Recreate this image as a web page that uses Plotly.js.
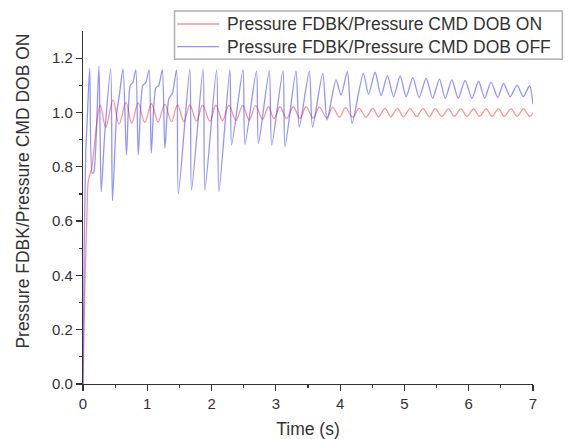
<!DOCTYPE html>
<html>
<head>
<meta charset="utf-8">
<script src="https://cdn.plot.ly/plotly-3.0.1.min.js"></script>
<style>html,body{margin:0;padding:0;background:#fff;}#chart{width:586px;height:439px;}</style>
</head>
<body>
<div id="chart"></div>
<script>
// Series names
const seriesOnName = "Pressure FDBK/Pressure CMD DOB ON";
const seriesOffName = "Pressure FDBK/Pressure CMD DOB OFF";
const xTitle = "Time (s)";
const yTitle = "Pressure FDBK/Pressure CMD DOB ON";

// DOB ON (red) – time (s) and ratio, read at peaks/troughs
const onTime = [0, 0.031, 0.062, 0.084, 0.131, 0.182, 0.234, 0.268, 0.354, 0.467, 0.561, 0.670, 0.759, 0.857, 0.961,
  1.065, 1.168, 1.273, 1.377, 1.470, 1.569, 1.662, 1.766, 1.860, 1.974, 2.067, 2.171, 2.270, 2.379, 2.483, 2.586,
  2.685, 2.794, 2.885, 2.970, 3.064, 3.168, 3.271, 3.375, 3.469, 3.583, 3.676, 3.791, 3.885, 3.988, 4.084, 4.196,
  4.294, 4.403, 4.508, 4.595, 4.699, 4.787, 4.891, 4.984, 5.089, 5.193, 5.287, 5.389, 5.478, 5.582, 5.685, 5.774,
  5.879, 5.972, 6.075, 6.168, 6.273, 6.361, 6.464, 6.553, 6.657, 6.751, 6.854, 6.947, 7.0];
const onValue = [0, 0.38, 0.63, 0.75, 0.79, 0.89, 0.997, 1.028, 0.945, 1.046, 0.957, 1.037, 0.960, 1.035, 0.963,
  1.032, 0.965, 1.030, 0.966, 1.028, 0.966, 1.028, 0.968, 1.027, 0.968, 1.027, 0.970, 1.027, 0.970, 1.026, 0.972,
  1.025, 0.975, 1.022, 0.977, 1.021, 0.978, 1.021, 0.978, 1.021, 0.979, 1.020, 0.980, 1.019, 0.982, 1.018, 0.982,
  1.015, 0.983, 1.015, 0.984, 1.015, 0.984, 1.015, 0.984, 1.014, 0.985, 1.014, 0.985, 1.014, 0.985, 1.013, 0.986,
  1.013, 0.986, 1.013, 0.986, 1.013, 0.986, 1.013, 0.986, 1.013, 0.986, 1.013, 0.986, 0.998];

// DOB OFF (blue)
const offTime = [0, 0.019, 0.042, 0.065, 0.104, 0.143, 0.167, 0.248, 0.283, 0.338, 0.431, 0.458, 0.525, 0.564, 0.623,
  0.676, 0.735, 0.774, 0.821, 0.860, 0.930, 0.977, 1.028, 1.062, 1.132, 1.179, 1.234, 1.273, 1.335, 1.389, 1.455,
  1.483, 1.662, 1.688, 1.869, 1.896, 2.078, 2.114, 2.285, 2.312, 2.488, 2.519, 2.698, 2.729, 2.897, 2.935, 3.111,
  3.142, 3.313, 3.364, 3.520, 3.570, 3.729, 3.796, 3.936, 4.014, 4.112, 4.185, 4.361, 4.442, 4.544, 4.637, 4.735,
  4.832, 4.933, 5.027, 5.131, 5.229, 5.338, 5.439, 5.545, 5.634, 5.738, 5.836, 5.945, 6.050, 6.153, 6.249, 6.346,
  6.452, 6.542, 6.646, 6.751, 6.849, 6.947, 7.0];
const offValue = [0, 0.5, 0.85, 0.97, 1.163, 0.776, 0.78, 1.17, 0.708, 0.92, 1.16, 0.675, 1.0, 1.06, 1.16,
  0.843, 1.10, 1.11, 1.157, 0.843, 1.10, 1.11, 1.157, 0.85, 1.09, 1.10, 1.157, 0.868, 1.05, 1.07, 1.157,
  0.70, 1.16, 0.714, 1.16, 0.714, 1.157, 0.708, 1.157, 0.88, 1.157, 0.883, 1.152, 0.886, 1.153, 0.88, 1.153,
  0.874, 1.152, 0.946, 1.152, 0.946, 1.144, 0.972, 1.12, 1.064, 1.15, 0.96, 1.144, 1.067, 1.148, 1.062, 1.136,
  1.058, 1.135, 1.058, 1.128, 1.055, 1.126, 1.052, 1.123, 1.052, 1.12, 1.052, 1.118, 1.052, 1.115, 1.053, 1.112,
  1.055, 1.107, 1.058, 1.101, 1.058, 1.099, 1.03];

const xTickVals = [0, 1, 2, 3, 4, 5, 6, 7];
const xMinorVals = [0.5, 1.5, 2.5, 3.5, 4.5, 5.5, 6.5];
const yTickVals = [0, 0.2, 0.4, 0.6, 0.8, 1.0, 1.2];
const yMinorVals = [0.1, 0.3, 0.5, 0.7, 0.9, 1.1];

const FONT = "Arial, 'Liberation Sans', Helvetica, sans-serif";
const RED = 'rgba(255,60,60,0.55)';
const BLUE = 'rgba(60,60,255,0.55)';

const traces = [
  {x: onTime, y: onValue, type: 'scatter', mode: 'lines', name: seriesOnName,
   line: {color: RED, width: 1.3, shape: 'spline', smoothing: 1}},
  {x: offTime, y: offValue, type: 'scatter', mode: 'lines', name: seriesOffName,
   line: {color: BLUE, width: 1.3, shape: 'spline', smoothing: 0.7}}
];

const axisCommon = {
  showgrid: false, zeroline: false, showline: true, linecolor: '#333', linewidth: 1.2,
  ticks: 'outside', ticklen: 6, tickwidth: 1.2, tickcolor: '#333',
  tickfont: {family: FONT, size: 15, color: '#333'}, mirror: false
};

// legend box drawn in the figure's paper space
const lgX0 = 0.2034, lgX1 = 1.0652, lgY0 = 0.9198, lgY1 = 1.0567;
const lgRows = [1.0198, 0.9555];
const lgLineX = [0.2092, 0.3026], lgTextX = 0.3153;

const layout = {
  width: 586, height: 439,
  margin: {l: 83.3, r: 53.3, t: 31, b: 55},
  paper_bgcolor: '#fff', plot_bgcolor: '#fff',
  showlegend: false,
  xaxis: Object.assign({}, axisCommon, {
    range: [0, 7], tickvals: xTickVals, tickformat: 'd',
    minor: {tickvals: xMinorVals, ticks: 'outside', ticklen: 3, tickcolor: '#333', tickwidth: 1.2},
    title: {text: xTitle, font: {family: FONT, size: 17.5, color: '#333'}, standoff: 12}
  }),
  yaxis: Object.assign({}, axisCommon, {
    range: [0, 1.3], tickvals: yTickVals, tickformat: '.1f',
    minor: {tickvals: yMinorVals, ticks: 'outside', ticklen: 3, tickcolor: '#333', tickwidth: 1.2}
  }),
  shapes: [
    {type: 'rect', xref: 'paper', yref: 'paper', x0: lgX0, x1: lgX1, y0: lgY0, y1: lgY1,
     fillcolor: '#fff', line: {color: '#b0b0b0', width: 1.5}, layer: 'above'},
    {type: 'line', xref: 'paper', yref: 'paper', x0: lgLineX[0], x1: lgLineX[1], y0: lgRows[0], y1: lgRows[0],
     line: {color: RED, width: 1.3}, layer: 'above'},
    {type: 'line', xref: 'paper', yref: 'paper', x0: lgLineX[0], x1: lgLineX[1], y0: lgRows[1], y1: lgRows[1],
     line: {color: BLUE, width: 1.3}, layer: 'above'}
  ],
  annotations: [
    {text: yTitle, xref: 'paper', yref: 'paper', x: -0.134, y: 0.547, xanchor: 'center', yanchor: 'middle',
     textangle: -90, showarrow: false, font: {family: FONT, size: 17.5, color: '#333'}},
    {text: seriesOnName, xref: 'paper', yref: 'paper', x: lgTextX, y: lgRows[0], xanchor: 'left', yanchor: 'middle',
     showarrow: false, font: {family: FONT, size: 17.5, color: '#333'}},
    {text: seriesOffName, xref: 'paper', yref: 'paper', x: lgTextX, y: lgRows[1], xanchor: 'left', yanchor: 'middle',
     showarrow: false, font: {family: FONT, size: 17.5, color: '#333'}}
  ]
};

Plotly.newPlot('chart', traces, layout, {displayModeBar: false, staticPlot: true});
</script>
</body>
</html>
